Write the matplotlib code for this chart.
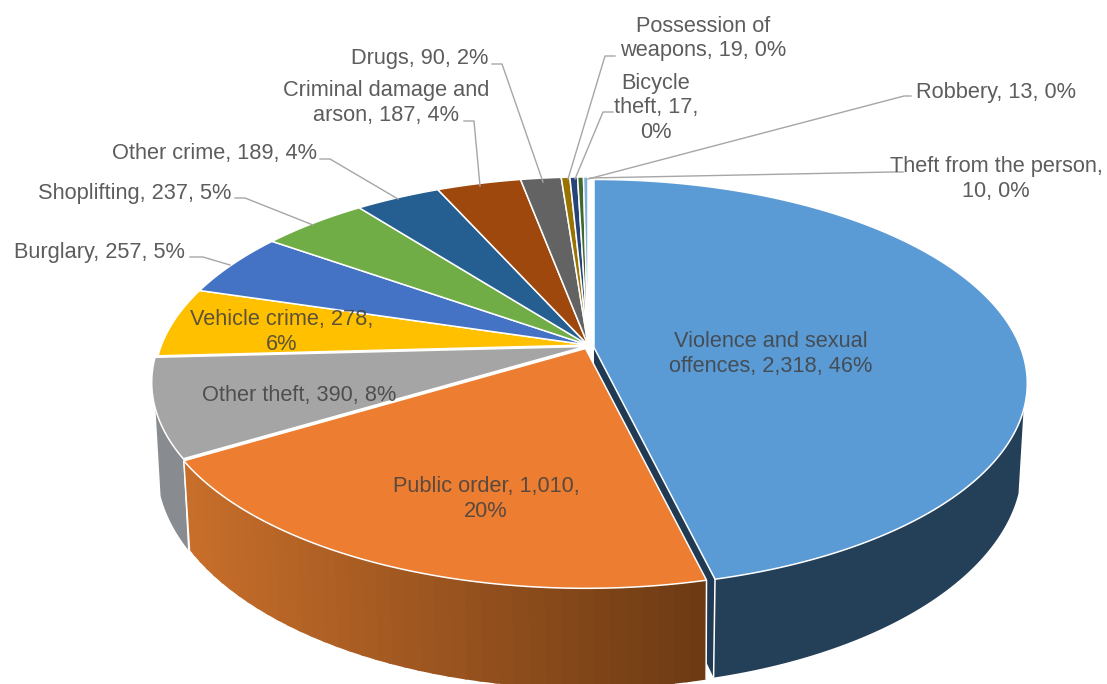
import numpy as np
import matplotlib
matplotlib.use("Agg")
import matplotlib.pyplot as plt
from matplotlib.collections import PolyCollection
from matplotlib.colors import to_rgb

categories = ["Violence and sexual offences", "Public order", "Other theft", "Vehicle crime",
              "Burglary", "Shoplifting", "Other crime", "Criminal damage and arson", "Drugs",
              "Possession of weapons", "Bicycle theft", "Robbery", "Theft from the person"]
values = [2318, 1010, 390, 278, 257, 237, 189, 187, 90, 19, 17, 13, 10]
labels = ["Violence and sexual\noffences, 2,318, 46%", "Public order, 1,010,\n20%",
          "Other theft, 390, 8%", "Vehicle crime, 278,\n6%", "Burglary, 257, 5%",
          "Shoplifting, 237, 5%", "Other crime, 189, 4%", "Criminal damage and\narson, 187, 4%",
          "Drugs, 90, 2%", "Possession of\nweapons, 19, 0%", "Bicycle\ntheft, 17,\n0%",
          "Robbery, 13, 0%", "Theft from the person,\n10, 0%"]
colors = ["#5B9BD5", "#ED7D31", "#A5A5A5", "#FFC000", "#4472C4", "#70AD47", "#255E91",
          "#9E480E", "#636363", "#997300", "#264478", "#43682B", "#7CAFDD"]

# layout (pixels)
W, H = 1107, 684
APEX = (594.0, 347.5)
K = 0.176
TOP_A, TOP_B = 197.6, 426.5
BOT_A, BOT_B, BOT_DY = 215.0, 421.5, 78.0
OFFSETS = [(0, 0), (-8.5, 1), (-9, -1)] + [(-6, -2.5)] * 10
BOT_EXTRA = {0: (0, 0), 1: (1, 1), 2: (0, 3)}
WALL_SIN_LIMIT = -0.30
LABEL_XY = [(771, 354), (486, 499), (299, 395.5), (282, 332), (99, 252.5), (134.5, 193.5), (214.5, 153.5),
            (386, 103), (419.5, 58.5), (703, 38.5), (656, 108), (995.5, 92.5), (996, 179)]
LEADERS = [None, None, None, None,
           [(190, 257), (203, 257), (230, 265)],
           [(235, 198), (245, 198), (313, 225)],
           [(320, 159), (330, 159), (398, 199)],
           [(464, 121), (474, 121), (480, 186)],
           [(492, 64), (502, 64), (543, 182)],
           [(615, 56), (605, 56), (568, 179)],
           [(613, 112), (603, 112), (575, 179)],
           [(911, 96), (904, 96), (588, 179)],
           [(903, 172), (892, 172), (590, 178)]]

fig = plt.figure(figsize=(W / 100, H / 100), dpi=100, facecolor="white")
ax = fig.add_axes([0, 0, 1, 1])
ax.set_xlim(0, W)
ax.set_ylim(H, 0)
ax.axis("off")


def top(theta, off, r=1.0):
    X, Y = r * np.cos(theta), r * np.sin(theta)
    d = 1 + K * Y
    return APEX[0] + off[0] + TOP_B * X / d, APEX[1] + off[1] - TOP_A * Y / d


def bottom(theta, off, r=1.0):
    X, Y = r * np.cos(theta), r * np.sin(theta)
    d = 1 + K * Y
    return APEX[0] + off[0] + BOT_B * X / d, APEX[1] + BOT_DY + off[1] - BOT_A * Y / d


fractions = np.array(values, dtype=float) / sum(values)
edges = np.pi / 2 - 2 * np.pi * np.concatenate([[0], np.cumsum(fractions)])

wall_start = {0: "#243F58", 1: "#C96F2B", 2: "#888B8F"}
wall_end = {0: "#243F58", 1: "#6D3A13", 2: "#888B8F"}

for i in [0, 2, 1]:
    off = OFFSETS[i]
    boff = (off[0] + BOT_EXTRA[i][0], off[1] + BOT_EXTRA[i][1])
    if i == 0:
        ax_, ay_ = top(edges[1], off, 0.0)
        cx_, cy_ = bottom(edges[1], off, 0.0)
        ex, ey = top(edges[1], off)
        fx, fy = bottom(edges[1], off)
        ax.fill([ax_, ex, fx, cx_], [ay_, ey, fy, cy_], color="#1F3A52", lw=0, zorder=1)
    z = {0: 2.0, 2: 2.2, 1: 2.5}[i]
    t = np.linspace(edges[i], edges[i + 1], 481)
    t = t[np.sin(t) < WALL_SIN_LIMIT]
    tx, ty = top(t, off)
    bx, by = bottom(t, boff)
    c0, c1 = np.array(to_rgb(wall_start[i])), np.array(to_rgb(wall_end[i]))
    if i != 1:
        ax.fill(np.r_[tx, bx[::-1]], np.r_[ty, by[::-1]], color=c0, lw=0, zorder=z)
    else:
        quads, cols = [], []
        xmin, xmax = 184.0, 708.0
        step = 12
        for j in range(0, len(t) - 1, step):
            k = min(j + step + 4, len(t) - 1)
            rng = np.arange(j, k + 1)
            quads.append(np.c_[np.r_[tx[rng], bx[rng][::-1]], np.r_[ty[rng], by[rng][::-1]]])
            f = np.clip((tx[j] - xmin) / (xmax - xmin), 0, 1)
            cols.append(tuple(c0 + (c1 - c0) * f))
        ax.add_collection(PolyCollection(quads, facecolors=cols, edgecolors="none", zorder=z))
    if i != 2:
        for th in (edges[i], edges[i + 1]):
            if np.sin(th) < 0:
                px, py = top(th, off)
                qx, qy = bottom(th, boff)
                ax.plot([px, qx], [py, qy], color="white", lw=1.1, zorder=2.7, solid_capstyle="butt")

# top faces
for i, (c, off) in enumerate(zip(colors, OFFSETS)):
    t = np.linspace(edges[i], edges[i + 1], max(int(abs(edges[i + 1] - edges[i]) * 120), 3))
    px, py = top(t, off)
    xs = np.concatenate([[APEX[0] + off[0]], px])
    ys = np.concatenate([[APEX[1] + off[1]], py])
    ax.fill(xs, ys, facecolor=c, edgecolor="white", lw=1.1, joinstyle="miter", zorder=3)

# leader lines
for pts in LEADERS:
    if pts:
        ax.plot([p[0] for p in pts], [p[1] for p in pts], color="#A6A6A6", lw=1.0, zorder=4)

# labels
for lab, (x, y) in zip(labels, LABEL_XY):
    ax.text(x, y, lab, ha="center", va="center", family="Liberation Sans", fontsize=15.7,
            color="#404040", alpha=0.85, linespacing=1.24, zorder=5, multialignment="center")

fig.savefig("out.png", dpi=100, facecolor="white")
